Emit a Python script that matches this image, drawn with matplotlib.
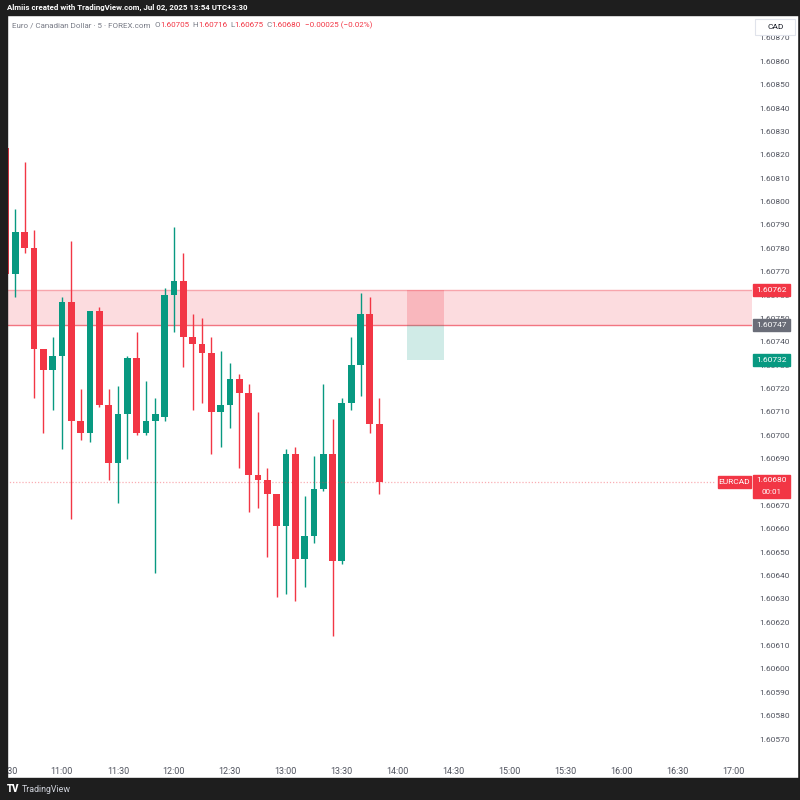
import numpy as np
import pandas as pd
import matplotlib
matplotlib.use('Agg')
import matplotlib.pyplot as plt
import matplotlib.dates as mdates
from matplotlib.patches import Rectangle

plt.rcParams['font.family'] = ['Roboto', 'DejaVu Sans']

# EURCAD 5-minute candles, 10:30 -> 13:50
opens = [1.60823, 1.60769, 1.60787, 1.60780, 1.60737, 1.60728, 1.60734, 1.60757, 1.60706, 1.60701,
         1.60753, 1.60713, 1.60688, 1.60709, 1.60733, 1.60701, 1.60706, 1.60708, 1.60760, 1.60766,
         1.60742, 1.60739, 1.60735, 1.60710, 1.60713, 1.60724, 1.60718, 1.60683, 1.60681, 1.60675,
         1.60661, 1.60692, 1.60647, 1.60657, 1.60677, 1.60692, 1.60646, 1.60714, 1.60730, 1.60752,
         1.60705]
highs = [1.60825, 1.60797, 1.60817, 1.60788, 1.60737, 1.60742, 1.60759, 1.60783, 1.60720, 1.60753,
         1.60755, 1.60720, 1.60721, 1.60734, 1.60744, 1.60723, 1.60716, 1.60763, 1.60789, 1.60778,
         1.60752, 1.60750, 1.60742, 1.60736, 1.60731, 1.60726, 1.60722, 1.60710, 1.60686, 1.60675,
         1.60694, 1.60695, 1.60674, 1.60691, 1.60722, 1.60707, 1.60716, 1.60742, 1.60761, 1.60759,
         1.60716]
lows = [1.60765, 1.60759, 1.60778, 1.60716, 1.60701, 1.60711, 1.60694, 1.60664, 1.60698, 1.60697,
        1.60712, 1.60681, 1.60671, 1.60690, 1.60700, 1.60700, 1.60641, 1.60706, 1.60744, 1.60729,
        1.60711, 1.60714, 1.60692, 1.60695, 1.60703, 1.60686, 1.60667, 1.60669, 1.60648, 1.60631,
        1.60632, 1.60629, 1.60635, 1.60654, 1.60676, 1.60614, 1.60645, 1.60711, 1.60717, 1.60701,
        1.60675]
closes = [1.60769, 1.60787, 1.60780, 1.60737, 1.60728, 1.60734, 1.60757, 1.60706, 1.60701, 1.60753,
          1.60713, 1.60688, 1.60709, 1.60733, 1.60701, 1.60706, 1.60709, 1.60760, 1.60766, 1.60742,
          1.60739, 1.60735, 1.60710, 1.60713, 1.60724, 1.60718, 1.60683, 1.60681, 1.60675, 1.60661,
          1.60692, 1.60647, 1.60657, 1.60677, 1.60692, 1.60646, 1.60714, 1.60730, 1.60752, 1.60705,
          1.60680]
start_time = '2025-07-02 10:30'

zone_top = 1.60762
zone_bottom = 1.60747
target_price = 1.60732
box_start, box_end = '2025-07-02 14:05', '2025-07-02 14:25'
last_price = 1.60680
price_ticks = np.round(np.arange(1.60570, 1.608705, 0.0001), 5)

UP = '#089981'
DOWN = '#f23645'
DARK = '#1e1e1e'
TXT = '#50535e'

W = H = 800


def fx(px):
    return px / W


def fy(py):
    return 1 - py / H


fig = plt.figure(figsize=(8, 8), dpi=100, facecolor=DARK)
fig.patches.append(Rectangle((fx(7), fy(778)), fx(790), 763 / H, transform=fig.transFigure,
                             color='white', zorder=-1))

ax = fig.add_axes([fx(0), fy(762), fx(752), (762 - 15) / H])
ax.set_facecolor('none')
for s in ax.spines.values():
    s.set_visible(False)

times = pd.date_range(start_time, periods=len(opens), freq='5min')
x = mdates.date2num(times)
step = 5 / 1440.0
width = step * 0.72

o = np.array(opens)
c = np.array(closes)
colors = [UP if cc >= oo else DOWN for oo, cc in zip(o, c)]
ax.vlines(x, lows, highs, colors=colors, lw=1, zorder=3)
ax.bar(x, np.maximum(np.abs(c - o), 0.000012), bottom=np.minimum(o, c), width=width,
       color=colors, zorder=4, linewidth=0)

# resistance zone
ax.axhspan(zone_bottom, zone_top, color='#fcdcdf', zorder=1, lw=0)
ax.axhline(zone_top, color='#f7a5ac', lw=1, zorder=2)
ax.axhline(zone_bottom, color='#f27581', lw=1, zorder=2)

# short position tool
bx0 = mdates.date2num(pd.Timestamp(box_start))
bx1 = mdates.date2num(pd.Timestamp(box_end))
ax.add_patch(Rectangle((bx0, zone_bottom), bx1 - bx0, zone_top - zone_bottom,
                       color=DOWN, alpha=0.22, lw=0, zorder=2))
ax.add_patch(Rectangle((bx0, target_price), bx1 - bx0, zone_bottom - target_price,
                       color=UP, alpha=0.19, lw=0, zorder=2))

# last price line
ax.axhline(last_price, xmax=715 / 752, color=DOWN, alpha=0.4, lw=0.9,
           linestyle=(0, (1, 1.5)), zorder=5)

x_left = mdates.date2num(times[0] - pd.Timedelta(minutes=3.2))
x_right = mdates.date2num(times[0] + pd.Timedelta(minutes=399.8))
ax.set_xlim(x_left, x_right)
ax.set_ylim(1.605602, 1.608798)

ax.xaxis.set_major_locator(mdates.MinuteLocator(byminute=[0, 30]))
ax.xaxis.set_major_formatter(mdates.DateFormatter('%H:%M'))
ax.tick_params(axis='x', length=0, pad=3.5, labelsize=6.5, labelcolor=TXT)
ax.yaxis.tick_right()
ax.set_yticks(price_ticks)
# the last-price tag sits right on top of this level, so its tick label is hidden
ax.set_yticklabels(['' if abs(p - last_price) < 1e-7 else f'{p:.5f}' for p in price_ticks])
ax.tick_params(axis='y', length=0, pad=5.0, labelsize=6.0, labelcolor=TXT)


def price_fig_y(price):
    return fig.transFigure.inverted().transform(ax.transData.transform((0, price)))[1]


def price_tag(price, text, color, x0=753, w=37, up=6, down=6, dy=0):
    yc = price_fig_y(price)
    fig.patches.append(Rectangle((fx(x0), yc - down / H), w / W, (up + down) / H,
                                 transform=fig.transFigure, color=color, zorder=5))
    fig.text(fx(x0 + w / 2), yc + dy / H, text, color='white', fontsize=6.0,
             ha='center', va='center', zorder=6)


price_tag(zone_top, f'{zone_top:.5f}', DOWN)
price_tag(zone_bottom, f'{zone_bottom:.5f}', '#6a6d78')
price_tag(target_price, f'{target_price:.5f}', UP)
price_tag(last_price, f'{last_price:.5f}', DOWN, up=7, down=16, dy=1.5)
fig.text(fx(771.5), price_fig_y(last_price) - 10 / H, '00:01', color='white', fontsize=5.8,
         ha='center', va='center', zorder=6)
price_tag(last_price, 'EURCAD', DOWN, x0=718, w=33)

# currency box
fig.patches.append(Rectangle((fx(755), fy(35)), 40 / W, 16 / H, transform=fig.transFigure,
                             facecolor='white', edgecolor='#e0e3eb', lw=0.8, zorder=5))
fig.text(fx(768), fy(27), 'CAD', color='#131722', fontsize=6.0, va='center', zorder=6)

# dark frame pieces
fig.patches.append(Rectangle((0, fy(778)), fx(7), 763 / H, transform=fig.transFigure,
                             color=DARK, zorder=10))
fig.patches.append(Rectangle((0, fy(15)), 1, 15 / H, transform=fig.transFigure,
                             color=DARK, zorder=10))
fig.patches.append(Rectangle((0, 0), 1, 22 / H, transform=fig.transFigure,
                             color=DARK, zorder=10))

fig.text(fx(7), fy(7.5), 'Almiis created with TradingView.com, Jul 02, 2025 13:54 UTC+3:30',
         color='white', fontsize=5.7, weight='bold', va='center', zorder=11)
fig.text(fx(7), fy(789), 'TV', color='white', fontsize=7, weight='heavy', va='center', zorder=11)
fig.text(fx(22), fy(789), 'TradingView', color='#d1d4dc', fontsize=6.4, va='center', zorder=11)

# legend line, laid out piece by piece
legend_parts = [
    ('Euro / Canadian Dollar · 5 · FOREX.com', '#787b86', 4),
    ('O', '#787b86', 0), (f'{opens[-1]:.5f}', DOWN, 3),
    ('H', '#787b86', 0), (f'{highs[-1]:.5f}', DOWN, 3),
    ('L', '#787b86', 0), (f'{lows[-1]:.5f}', DOWN, 3),
    ('C', '#787b86', 0), (f'{closes[-1]:.5f}', DOWN, 4),
    ('\u22120.00025 (\u22120.02%)', DOWN, 0),
]
renderer = fig.canvas.get_renderer()
cur = 12
for s, col, gap in legend_parts:
    t = fig.text(fx(cur), fy(25), s, color=col, fontsize=5.8, va='center', zorder=6)
    cur += t.get_window_extent(renderer).width + gap

plt.savefig('out.png', dpi=100, facecolor=DARK)
plt.close()
